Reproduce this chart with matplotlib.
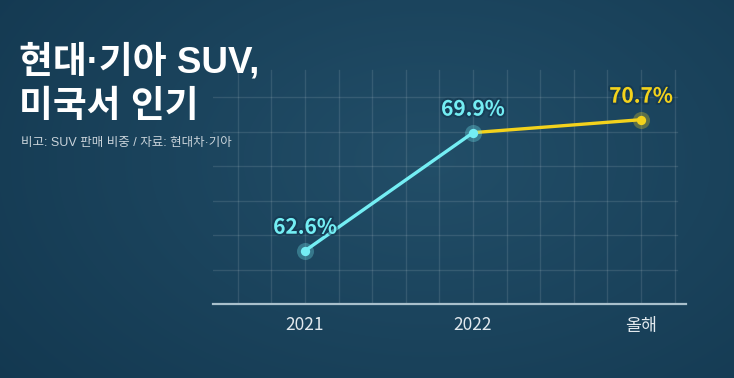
import numpy as np
import matplotlib.pyplot as plt
from matplotlib import patheffects as pe

plt.rcParams['font.family'] = ['Noto Sans CJK KR', 'DejaVu Sans']

# data
categories = ['2021', '2022', '올해']
share = [62.6, 69.9, 70.7]   # SUV 판매 비중 (%)
labels = ['62.6%', '69.9%', '70.7%']

title_lines = ['현대·기아 SUV,', '미국서 인기']
note = '비고: SUV 판매 비중 / 자료: 현대차·기아'

W, H = 734, 378
fig = plt.figure(figsize=(W / 100, H / 100), dpi=100)

# background gradient
bg = fig.add_axes([0, 0, 1, 1], zorder=-5)
yy, xx = np.mgrid[0:H, 0:W]
d = np.sqrt(((xx - 430) / 560) ** 2 + ((yy - 160) / 360) ** 2)
d = np.clip(d, 0, 1)
c_in = np.array([0x22, 0x4e, 0x68]) / 255
c_out = np.array([0x13, 0x38, 0x50]) / 255
img = c_in[None, None, :] * (1 - d[..., None]) + c_out[None, None, :] * d[..., None]
bg.imshow(img, aspect='auto', extent=[0, W, H, 0])
bg.axis('off')

# chart axes, placed in pixels
left, right, top, bottom = 213, 686, 60, 304
ax = fig.add_axes([left / W, 1 - bottom / H, (right - left) / W, (bottom - top) / H])
ax.patch.set_alpha(0)
x = np.arange(len(categories))
ax.set_xlim(-0.548, 2.268)
ax.set_ylim(59.31, 74.39)

# decorative grid
for gx in np.arange(-0.4, 2.3, 0.2):
    ax.axvline(gx, ymin=0.0, ymax=0.96, color='white', alpha=0.11, lw=1.0, zorder=1)
for gy in np.arange(61.41, 74.0, 2.138):
    ax.axhline(gy, xmin=0.0, xmax=0.98, color='white', alpha=0.11, lw=1.0, zorder=1)

for s in ['top', 'right', 'left']:
    ax.spines[s].set_visible(False)
ax.spines['bottom'].set_color('#a9c0cc')
ax.spines['bottom'].set_linewidth(1.6)
ax.set_yticks([])
ax.set_xticks(x)
ax.set_xticklabels(categories, fontsize=12.5, color='#e2e9ee')
ax.tick_params(axis='x', length=0, pad=9)

cyan = '#74eef4'
yellow = '#f3d21c'

ax.plot(x[:2], share[:2], color=cyan, lw=2.4, zorder=3, solid_capstyle='round')
ax.plot(x[1:], share[1:], color=yellow, lw=2.4, zorder=3, solid_capstyle='round')

pt_cols = [cyan, cyan, yellow]
for xi, yi, c, lab in zip(x, share, pt_cols, labels):
    ax.scatter(xi, yi, s=150, color=c, alpha=0.3, zorder=4, linewidths=0)
    ax.scatter(xi, yi, s=45, color=c, zorder=5, linewidths=0)
    ax.annotate(lab, (xi, yi), xytext=(0, 17), textcoords='offset points',
                ha='center', va='center', fontsize=15, fontweight='bold', color=c,
                zorder=6,
                path_effects=[pe.withStroke(linewidth=3, foreground='#10324a', alpha=0.5)])

for i, line in enumerate(title_lines):
    fig.text(19 / W, 1 - (58 + 46 * i) / H, line, ha='left', va='center_baseline',
             fontsize=26.5, fontweight='bold', color='white',
             family=['Liberation Sans', 'Noto Sans CJK KR'])
fig.text(21 / W, 1 - 143 / H, note, ha='left', va='center', fontsize=9.0,
         color='#c9d3da', family=['Liberation Sans', 'Noto Sans CJK KR'])

fig.savefig('out.png', dpi=100)
